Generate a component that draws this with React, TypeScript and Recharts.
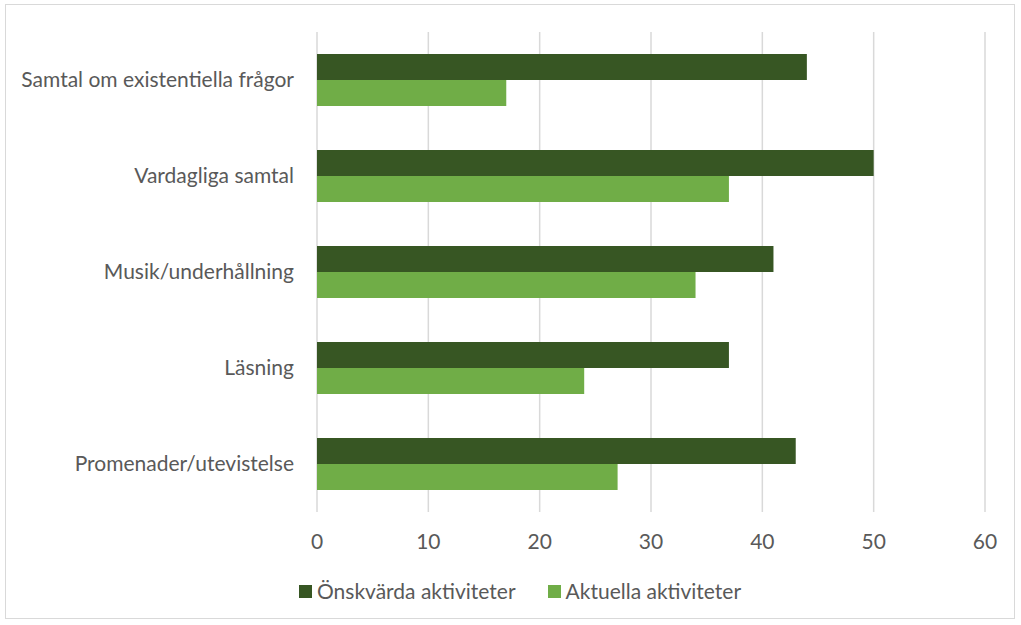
import React from 'react';
import { BarChart, Bar, XAxis, YAxis, CartesianGrid, Legend } from 'recharts';

const categories = [
  'Samtal om existentiella frågor',
  'Vardagliga samtal',
  'Musik/underhållning',
  'Läsning',
  'Promenader/utevistelse',
];
const onskvarda = [44, 50, 41, 37, 43];
const aktuella = [17, 37, 34, 24, 27];
const xTicks = [0, 10, 20, 30, 40, 50, 60];

const series = [
  { key: 'onskvarda', label: 'Önskvärda aktiviteter', color: '#375623' },
  { key: 'aktuella', label: 'Aktuella aktiviteter', color: '#70AD47' },
];

const data = categories.map((name, i) => ({
  name,
  onskvarda: onskvarda[i],
  aktuella: aktuella[i],
}));

const FONT = 'Lato, "Open Sans", sans-serif';
const TEXT = '#595959';
const FS = 21;

// legend drawn in series order, squares then labels
const LegendContent = () => (
  <div style={{ display: 'flex', alignItems: 'center', height: 24, paddingLeft: 299 }}>
    {series.map((s) => (
      <div key={s.key} style={{ display: 'flex', alignItems: 'center', marginRight: 32 }}>
        <span style={{ width: 13, height: 13, background: s.color, display: 'inline-block', marginRight: 5 }} />
        <span style={{ color: TEXT, fontSize: FS, fontFamily: FONT, lineHeight: '24px' }}>{s.label}</span>
      </div>
    ))}
  </div>
);

const App: React.FC = () => {
  return (
    <div style={{ position: 'fixed', left: 0, top: 0, width: 1021, height: 625, background: '#fff', fontFamily: FONT }}>
      {/* chart frame */}
      <div style={{ position: 'absolute', left: 5, top: 4, width: 1010, height: 615, border: '1px solid #D9D9D9', boxSizing: 'border-box' }} />
      <div style={{ position: 'absolute', left: 0, top: 0 }}>
        <BarChart
          width={1021}
          height={625}
          data={data}
          layout="vertical"
          margin={{ top: 32, right: 36, bottom: 0, left: 0 }}
          barCategoryGap="23%"
          barGap={0}
        >
          <CartesianGrid horizontal={false} stroke="#D9D9D9" strokeWidth={1.5} />
          <XAxis
            type="number"
            domain={[0, 60]}
            ticks={xTicks}
            axisLine={false}
            tickLine={false}
            tickSize={0}
            tickMargin={22}
            height={89}
            tick={{ fill: TEXT, fontSize: FS, fontFamily: FONT }}
          />
          <YAxis
            type="category"
            dataKey="name"
            width={317}
            axisLine={false}
            tickLine={false}
            tickSize={0}
            tickMargin={23}
            tick={{ fill: TEXT, fontSize: FS, fontFamily: FONT }}
          />
          <Legend
            verticalAlign="bottom"
            content={<LegendContent />}
            wrapperStyle={{ position: 'absolute', top: 579, left: 0, width: 1021, height: 24, bottom: 'auto' }}
          />
          {series.map((s) => (
            <Bar key={s.key} dataKey={s.key} name={s.label} fill={s.color} isAnimationActive={false} />
          ))}
        </BarChart>
      </div>
    </div>
  );
};

export default App;
